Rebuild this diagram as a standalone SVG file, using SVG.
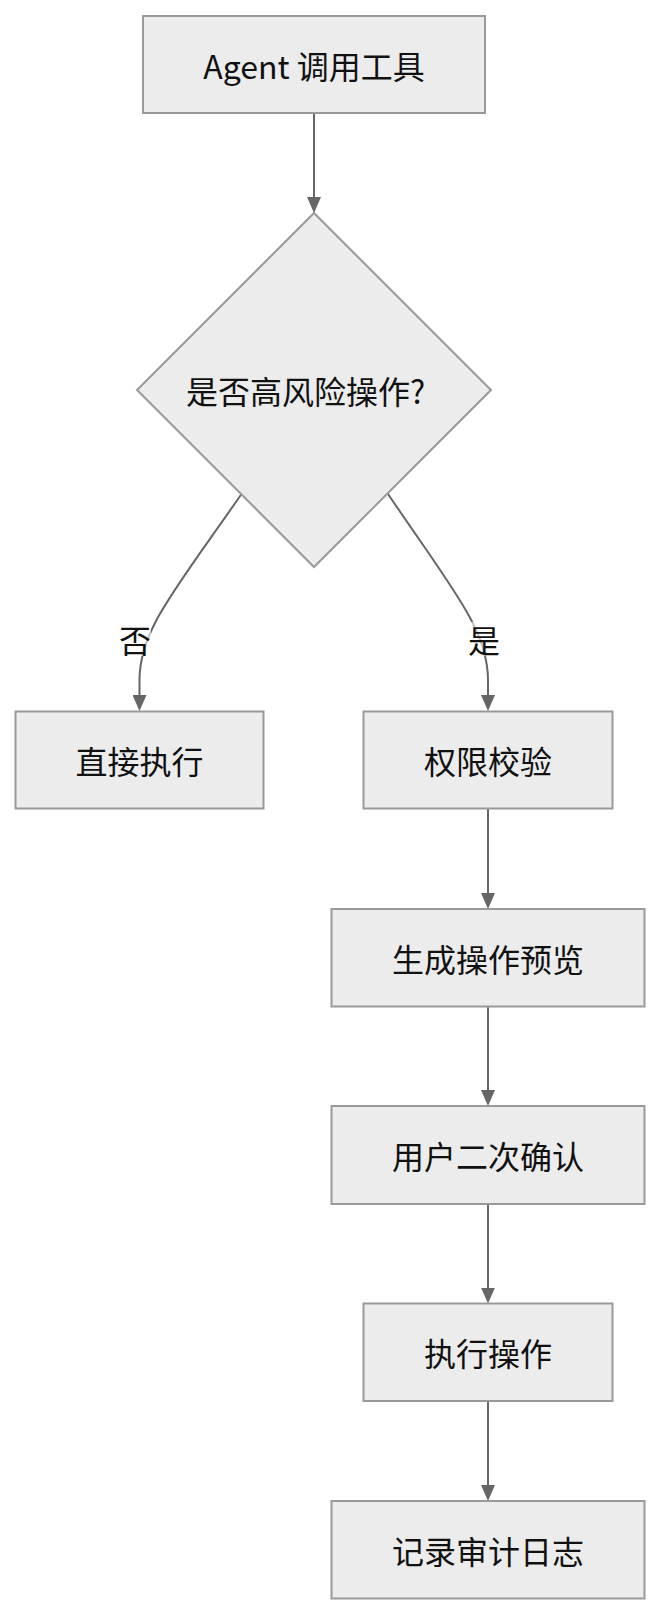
<svg xmlns="http://www.w3.org/2000/svg" width="660" height="1615" viewBox="0 0 660 1615">
<style>
  .node rect, .node polygon { fill: #ECECEC; stroke: #999999; stroke-width: 2; }
  .node text, .label text { font-family: "Noto Sans CJK SC", "Noto Sans", sans-serif; font-size: 32px; fill: #111111; text-anchor: middle; dominant-baseline: central; }
  .edge { fill: none; stroke: #666666; stroke-width: 2; }
</style>
<defs>
  <marker id="arrow" viewBox="0 0 16 14" refX="12" refY="7" markerWidth="16" markerHeight="14" markerUnits="userSpaceOnUse" orient="auto">
    <path d="M0,0 L16,7 L0,14 z" fill="#666666"/>
  </marker>
</defs>
<rect width="660" height="1615" fill="#FFFFFF"/>
<g id="connectors">
  <path class="edge" d="M314,113 L314,209" marker-end="url(#arrow)"/>
  <path class="edge" d="M241.5,494 C175,590 139.5,630 139.5,680 L139.5,707" marker-end="url(#arrow)"/>
  <path class="edge" d="M388,494 C453,590 488,630 488,680 L488,707" marker-end="url(#arrow)"/>
  <path class="edge" d="M488,808.5 L488,905" marker-end="url(#arrow)"/>
  <path class="edge" d="M488,1006.5 L488,1102" marker-end="url(#arrow)"/>
  <path class="edge" d="M488,1204 L488,1299.5" marker-end="url(#arrow)"/>
  <path class="edge" d="M488,1401 L488,1497" marker-end="url(#arrow)"/>
  <g class="label" id="label-no">
    <rect x="119" y="622" width="32" height="34" fill="#FFFFFF" fill-opacity="0.6"/>
    <text x="135" y="638.5">否</text>
  </g>
  <g class="label" id="label-yes">
    <rect x="468" y="622" width="32" height="34" fill="#FFFFFF" fill-opacity="0.6"/>
    <text x="484" y="638.5">是</text>
  </g>
</g>
<g id="n-agent" class="node">
  <rect x="143" y="16" width="342" height="97"/>
  <text x="314" y="64.5">Agent 调用工具</text>
</g>
<g id="n-decision" class="node">
  <polygon points="314,213 491,390 314,567 137,390"/>
  <text x="186" y="390" style="text-anchor:start">是否高风险操作?</text>
</g>
<g id="n-direct" class="node">
  <rect x="15.5" y="711.5" width="248" height="97"/>
  <text x="139.5" y="760">直接执行</text>
</g>
<g id="n-perm" class="node">
  <rect x="363.5" y="711.5" width="249" height="97"/>
  <text x="488" y="760">权限校验</text>
</g>
<g id="n-preview" class="node">
  <rect x="331.5" y="909" width="313" height="97.5"/>
  <text x="488" y="957.5">生成操作预览</text>
</g>
<g id="n-confirm" class="node">
  <rect x="331.5" y="1106" width="313" height="98"/>
  <text x="488" y="1155">用户二次确认</text>
</g>
<g id="n-exec" class="node">
  <rect x="363.5" y="1303.5" width="249" height="97.5"/>
  <text x="488" y="1352">执行操作</text>
</g>
<g id="n-audit" class="node">
  <rect x="331.5" y="1501" width="313" height="97.5"/>
  <text x="488" y="1549.5">记录审计日志</text>
</g>
</svg>
